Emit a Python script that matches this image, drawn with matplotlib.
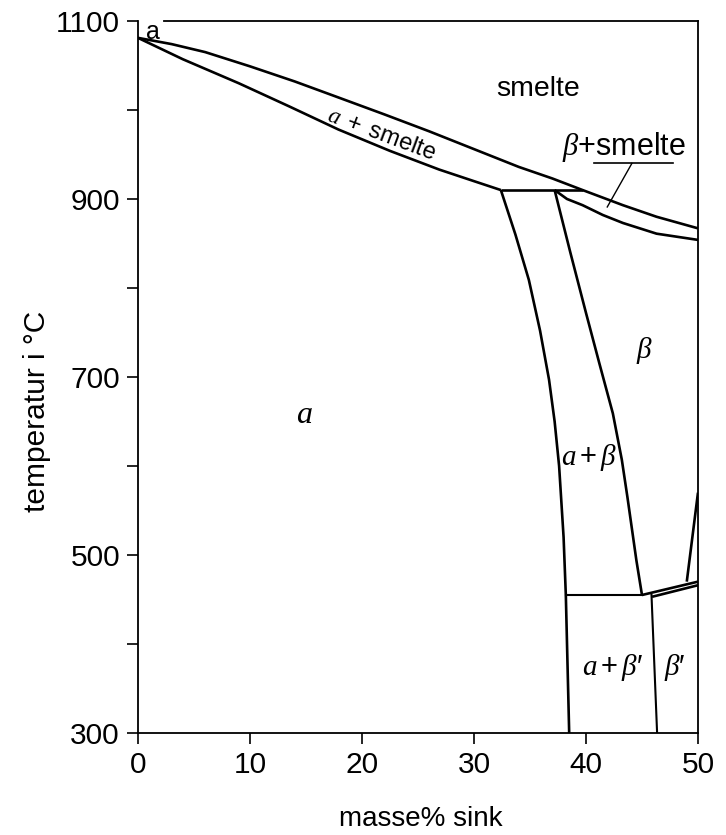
import matplotlib
matplotlib.use("Agg")
import matplotlib.pyplot as plt

plt.rcParams['font.family'] = ['Liberation Sans', 'DejaVu Sans']
plt.rcParams['mathtext.fontset'] = 'custom'
plt.rcParams['mathtext.rm'] = 'Liberation Sans'
plt.rcParams['mathtext.it'] = 'Liberation Serif:italic'

# phase boundaries, (masse% sink, temperatur i °C)
liquidus_x = [0, 3, 6.0, 10, 14, 17.9, 22, 26, 30, 34.0, 37, 39.7, 43.3, 46.3, 50]
liquidus_t = [1081, 1074, 1065, 1049, 1032, 1014, 995, 976, 956, 936, 923, 910, 893, 880, 867]

solidus_x = [0, 4, 9.0, 13.5, 17.9, 22.5, 26.9, 30, 32.4]
solidus_t = [1081, 1057, 1030, 1004, 978, 954, 933, 920, 910]

peritectic_x = [32.4, 39.7]
peritectic_t = [910, 910]

alpha_x = [32.4, 33.7, 34.9, 35.9, 36.7, 37.2, 37.6, 38.0, 38.2, 38.5]
alpha_t = [910, 860, 809, 752, 697, 650, 600, 520, 455, 300]

beta_left_x = [37.2, 38.6, 40.0, 41.2, 42.4, 43.2, 43.7, 44.5, 45.0]
beta_left_t = [910, 840, 772, 715, 659, 607, 565, 494, 455]

beta_top_x = [37.2, 38.3, 39.7, 41.5, 43.3, 46.3, 50]
beta_top_t = [910, 900, 893, 882, 873, 861, 854]

beta_right_x = [49.0, 50]
beta_right_t = [470, 570]

order1_x = [45.0, 50]
order1_t = [455, 470]
order2_x = [45.9, 50]
order2_t = [453, 466]

eutectoid_x = [38.2, 45.0]
eutectoid_t = [455, 455]

beta_prime_x = [45.85, 46.35]
beta_prime_t = [455, 300]

leader_under_x = [40.7, 47.8]
leader_under_t = [940, 940]
leader_x = [44.1, 41.9]
leader_t = [940, 891]

x_ticks = [0, 10, 20, 30, 40, 50]
y_ticks = [300, 400, 500, 600, 700, 800, 900, 1000, 1100]
y_labels = ['300', '', '500', '', '700', '', '900', '', '1100']

fig = plt.figure(figsize=(7.26, 8.35), dpi=100)
ax = fig.add_axes([0.1901, 0.1222, 0.7713, 0.8527])

lw = 1.9
for xs, ts in [(liquidus_x, liquidus_t), (solidus_x, solidus_t),
               (peritectic_x, peritectic_t), (alpha_x, alpha_t),
               (beta_left_x, beta_left_t), (beta_top_x, beta_top_t),
               (beta_right_x, beta_right_t), (order1_x, order1_t),
               (order2_x, order2_t)]:
    ax.plot(xs, ts, color='black', lw=lw, solid_capstyle='butt')

for xs, ts in [(eutectoid_x, eutectoid_t), (beta_prime_x, beta_prime_t)]:
    ax.plot(xs, ts, color='black', lw=1.5)

ax.plot(leader_under_x, leader_under_t, color='black', lw=1.2)
ax.plot(leader_x, leader_t, color='black', lw=1.0)

ax.set_xlim(0, 50)
ax.set_ylim(300, 1100)

for s in ax.spines.values():
    s.set_linewidth(1.3)
ax.spines['top'].set_bounds(2.3, 50)

ax.set_xticks(x_ticks)
ax.set_yticks(y_ticks)
ax.set_yticklabels(y_labels)
ax.tick_params(direction='out', length=8, width=1.2, labelsize=21.5, pad=5)

ax.set_xlabel('masse% sink', fontsize=20)
ax.xaxis.set_label_coords(0.505, -0.103)
ax.set_ylabel('temperatur i °C', fontsize=21.5)
ax.yaxis.set_label_coords(-0.155, 0.452)

# region labels
ax.text(0.75, 1101, 'a', fontsize=18, ha='left', va='top')
ax.text(35.7, 1024, 'smelte', fontsize=20.5, ha='center', va='center')
ax.text(21.7, 972, r'$a\ +\ \mathrm{smelte}$', fontsize=17, ha='center',
        va='center', rotation=-20.5, rotation_mode='anchor')
ax.text(43.4, 958, r'$\beta{+}\mathrm{smelte}$', fontsize=22, ha='center', va='center')
ax.text(14.9, 657, r'$a$', fontsize=23, ha='center', va='center')
ax.text(45.25, 730, r'$\beta$', fontsize=21, ha='center', va='center')
ax.text(40.3, 609, r'$a+\beta$', fontsize=21, ha='center', va='center')
ax.text(42.4, 374, r"$a+\beta$′", fontsize=21, ha='center', va='center')
ax.text(47.9, 374, r"$\beta$′", fontsize=21, ha='center', va='center')

fig.savefig('out.png', dpi=100)
